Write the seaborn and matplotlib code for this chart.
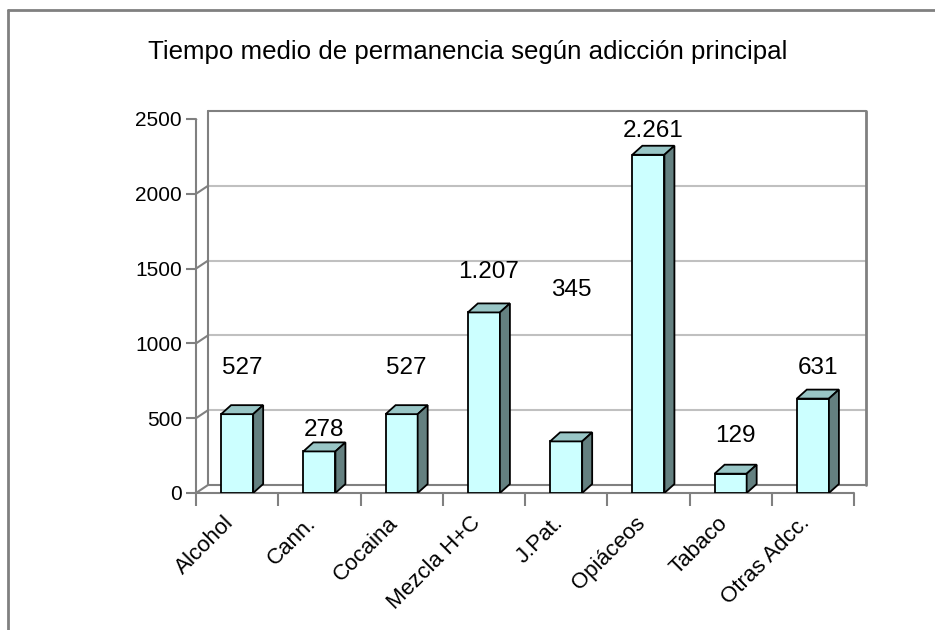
import matplotlib
matplotlib.use("Agg")
import matplotlib.pyplot as plt
import matplotlib.transforms as mtransforms
from matplotlib.patches import Polygon
from matplotlib.lines import Line2D
import seaborn as sns

categorias = ["Alcohol", "Cann.", "Cocaina", "Mezcla H+C", "J.Pat.", "Opiáceos", "Tabaco", "Otras Adcc."]
dias = [527, 278, 527, 1207, 345, 2261, 129, 631]
# where Excel put the value labels (data units)
altura_etiqueta = [836, 421, 836, 1477, 1357, 2420, 381, 836]
yticks = [0, 500, 1000, 1500, 2000, 2500]

sns.set_style("white")
plt.rcParams["font.family"] = ["Liberation Sans", "DejaVu Sans"]
plt.rcParams["text.color"] = "black"

W, H = 935, 630
fig = plt.figure(figsize=(W / 100, H / 100), dpi=100)
# front plane of the 3D box: x 196..854, y 119..493 (pixels from top)
ax = fig.add_axes([196 / W, 1 - 493 / H, (854 - 196) / W, (493 - 119) / H])

sns.barplot(x=categorias, y=dias, color="#CCFFFF", saturation=1, width=0.39,
            edgecolor="black", linewidth=1.3, ax=ax, zorder=5)
ax.set_xlim(-0.5, 7.5)
ax.set_ylim(0, 2500)
ax.set_xlabel("")
ax.set_ylabel("")
for s in ax.spines.values():
    s.set_visible(False)
ax.patch.set_alpha(0)

gris = "#808080"
wall = mtransforms.offset_copy(ax.transData, fig=fig, x=12, y=8, units="dots")

# back wall gridlines + diagonals on the left wall
for t in yticks:
    c = gris if t in (0, 2500) else "#C0C0C0"
    ax.plot([-0.5, 7.5], [t, t], color=c, lw=1.5, transform=wall, zorder=1, clip_on=False)
    p0 = ax.transData.transform((-0.5, t))
    ax.add_artist(Line2D([p0[0], p0[0] + 12], [p0[1], p0[1] + 8], color=gris, lw=1.5,
                         transform=None, zorder=1))
ax.plot([-0.5, -0.5], [0, 2500], color=gris, lw=1.5, transform=wall, zorder=1, clip_on=False)
ax.plot([7.5, 7.5], [0, 2500], color=gris, lw=2, transform=wall, zorder=1, clip_on=False)
# floor front edge + right diagonal + front axis
ax.plot([-0.5, 7.5], [0, 0], color=gris, lw=1.5, zorder=2, clip_on=False)
pr = ax.transData.transform((7.5, 0))
ax.add_artist(Line2D([pr[0], pr[0] + 12], [pr[1], pr[1] + 8], color=gris, lw=1.5,
                     transform=None, zorder=2))
ax.plot([-0.5, -0.5], [0, 2500], color=gris, lw=1.5, zorder=2, clip_on=False)

# 3D faces of the bars
dx, dy = 10, 9
for bar in ax.patches:
    x0, x1 = bar.get_x(), bar.get_x() + bar.get_width()
    h = bar.get_height()
    a = ax.transData.transform((x0, h))
    b = ax.transData.transform((x1, h))
    c = ax.transData.transform((x1, 0))
    top = Polygon([a, b, (b[0] + dx, b[1] + dy), (a[0] + dx, a[1] + dy)], closed=True,
                  facecolor="#99C6C6", edgecolor="black", lw=1.3, transform=None, zorder=6)
    side = Polygon([c, b, (b[0] + dx, b[1] + dy), (c[0] + dx, c[1] + dy)], closed=True,
                   facecolor="#648080", edgecolor="black", lw=1.3, transform=None, zorder=6)
    ax.add_artist(top)
    ax.add_artist(side)

# value labels
lbl = mtransforms.offset_copy(ax.transData, fig=fig, x=5, y=0, units="dots")
for i, (v, yl) in enumerate(zip(dias, altura_etiqueta)):
    txt = f"{v:,}".replace(",", ".")
    ax.text(i, yl, txt, ha="center", va="center", fontsize=17.5, transform=lbl, zorder=7)

# ticks
ax.set_yticks(yticks)
ax.set_yticklabels([str(t) for t in yticks], fontsize=15)
ax.tick_params(axis="y", length=7, width=1.5, color=gris, labelcolor="black", pad=3, left=True)
ax.set_xticks(range(len(categorias)))
ax.set_xticklabels(categorias, fontsize=16, rotation=45, ha="right", rotation_mode="anchor")
ax.tick_params(axis="x", length=0, pad=12, labelcolor="black")
ax.set_xticks([k - 0.5 for k in range(len(categorias) + 1)], minor=True)
ax.tick_params(axis="x", which="minor", length=9, width=1.5, color=gris, bottom=True)
shift = mtransforms.ScaledTranslation(-10 / 72, -2 / 72, fig.dpi_scale_trans)
for t in ax.get_xticklabels():
    t.set_transform(t.get_transform() + shift)

fig.text(0.5, 1 - 52 / H, "Tiempo medio de permanencia según adicción principal",
         ha="center", va="center", fontsize=18.6)

# chart area border (only top and left visible)
fig.add_artist(Line2D([8 / W, 1], [1 - 10 / H, 1 - 10 / H], color=gris, lw=2, transform=fig.transFigure))
fig.add_artist(Line2D([8 / W, 8 / W], [0, 1 - 10 / H], color=gris, lw=2, transform=fig.transFigure))

fig.savefig("out.png", dpi=100)
